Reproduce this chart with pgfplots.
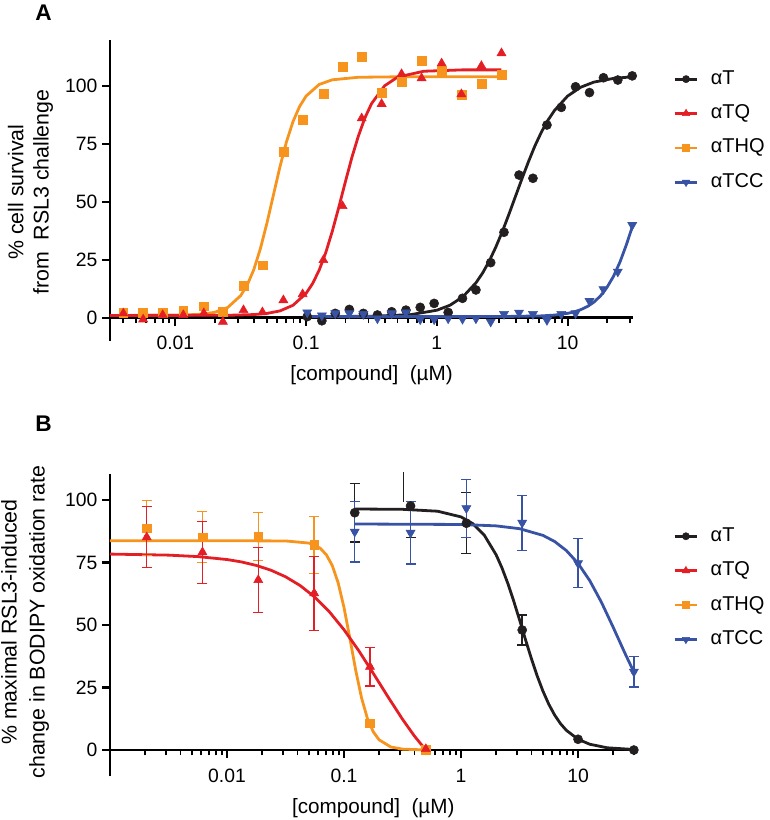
\documentclass[border=0pt]{standalone}
\usepackage{fontspec}
\setmainfont{Liberation Sans}
\usepackage{pgfplots}
\pgfplotsset{compat=1.18}
\definecolor{cT}{HTML}{231F20}
\definecolor{cTQ}{HTML}{E41E25}
\definecolor{cTHQ}{HTML}{F7941D}
\definecolor{cTCC}{HTML}{3953A4}

\pgfplotsset{
  every axis/.append style={
    scale only axis,
    axis x line=middle,
    axis y line=left,
    axis line style={-, line width=2pt, black},
    tick align=outside,
    major tick style={line width=1.6pt, black},
    minor tick style={line width=1.4pt, black},
    major tick length=6pt,
    minor tick length=4pt,
    hide obscured x ticks=false,
    hide obscured y ticks=false,
    ytick={0,25,50,75,100},
    yticklabels={0,25,50,75,100},
    xtick={0.01,0.1,1,10},
    xticklabels={0.01,0.1,1,10},
    tick label style={font=\fontsize{14.5}{17}\selectfont},
    xticklabel style={yshift=-4.5pt},
    clip=false,
    legend cell align=left,
    legend style={draw=none, fill=none, inner sep=0pt, anchor=north west,
      font=\fontsize{15}{18}\selectfont,
      nodes={inner sep=0pt, text height=10.5pt, text depth=3pt},
      row sep=12.3pt,
      /tikz/every odd column/.append style={column sep=9pt}},
  },
}

\begin{document}
\begin{tikzpicture}
\useasboundingbox (0pt,0pt) rectangle (577.5pt,-615pt);
\node[font=\fontsize{17}{19}\selectfont\bfseries] at (32.6pt,-9.5pt) {A};
\node[font=\fontsize{17}{19}\selectfont\bfseries] at (32.6pt,-317.6pt) {B};

% ---------------- panel A ----------------
\begin{axis}[
  xmode=log,
  at={(82.5pt,-255.7pt)}, anchor=south west,
  width=392.25pt, height=225.9pt,
  xmin=0.003162, xmax=31.62, ymin=-10, ymax=120,
  minor xtick={0.004,0.005,0.006,0.007,0.008,0.009,0.02,0.03,0.04,0.05,0.06,0.07,0.08,0.09,0.2,0.3,0.4,0.5,0.6,0.7,0.8,0.9,2,3,4,5,6,7,8,9,20,30},
  legend style={at={(1.0765,0.90)}},
]
\node[rotate=90, align=center, font=\fontsize{16}{19}\selectfont] at (axis description cs:-0.152,0.494) {\% cell survival\\from\ \ RSL3 challenge};
\node[font=\fontsize{15.5}{18}\selectfont] at (axis description cs:0.5,-0.113) {[compound]\ \ (µM)};

% fitted curves
\addplot[cTHQ, line width=2.1pt, forget plot] coordinates {
 (0.003162,1.0) (0.01,1.07) (0.01585,1.51) (0.01995,2.34) (0.02512,4.43) (0.03162,9.58)
 (0.03548,14.2) (0.03981,20.8) (0.04467,29.8) (0.05012,40.8) (0.05623,53.0) (0.0631,65.2)
 (0.07079,76.0) (0.07943,84.7) (0.08913,91.2) (0.1,95.7) (0.1259,100.7) (0.1585,102.7)
 (0.2512,103.8) (0.5012,104.0) (3.12,104.0)};
\addplot[cTQ, line width=2.1pt, forget plot] coordinates {
 (0.003162,1.0) (0.02512,1.07) (0.03981,1.38) (0.05012,1.87) (0.0631,2.96) (0.07943,5.4)
 (0.1,10.55) (0.1122,14.8) (0.1259,20.6) (0.1413,28.1) (0.1585,37.3) (0.1778,47.7)
 (0.1995,58.6) (0.2239,69.2) (0.2512,78.5) (0.2818,86.3) (0.3162,92.4) (0.3981,100.1)
 (0.5012,103.9) (0.7943,106.4) (1.585,107.0) (3.12,107.0)};
\addplot[cT, line width=2.1pt, forget plot] coordinates {
 (0.1,0.51) (0.3162,0.64) (0.631,1.35) (1,3.26) (1.259,5.4) (1.585,9.1) (1.995,15.15)
 (2.239,19.34) (2.512,24.4) (2.818,30.4) (3.162,37.1) (3.548,44.5) (3.981,52.2) (4.467,59.9)
 (5.012,67.3) (5.623,74.2) (6.31,80.2) (7.079,85.3) (7.943,89.5) (10,95.7) (12.59,99.5)
 (15.85,101.7) (22.39,103.3) (31.2,104.0)};
\addplot[cTCC, line width=2.1pt, forget plot] coordinates {
 (0.1,0.5) (1,0.5) (3.162,0.53) (6.31,0.81) (7.943,1.16) (10,1.91) (11.22,2.55) (12.59,3.49)
 (14.13,4.83) (15.85,6.71) (17.78,9.35) (19.95,13.0) (22.39,17.8) (25.12,24.0) (28.18,31.6)
 (31.2,39.2)};

% data points
\addplot[only marks, mark=square*, cTHQ, mark size=3.3pt, forget plot] coordinates {
 (0.0040,2.3) (0.00567,2.0) (0.0080,2.0) (0.0115,3.0) (0.0165,5.0) (0.0231,2.6) (0.0332,13.7)
 (0.0463,22.7) (0.067,71.7) (0.094,85.4) (0.1355,96.6) (0.19,108.4) (0.266,112.7) (0.378,97.2)
 (0.537,101.9) (0.764,110.8) (1.087,106.6) (1.54,96.2) (2.19,100.9) (3.12,104.8)};
\addplot[only marks, mark=triangle*, cTQ, mark size=3.9pt, forget plot] coordinates {
 (0.0040,1.9) (0.00567,-0.7) (0.0080,1.2) (0.0115,1.2) (0.0165,2.0) (0.0231,-1.7) (0.0332,3.3)
 (0.0463,2.4) (0.067,7.6) (0.094,10.2) (0.1355,24.9) (0.19,48.2) (0.266,86.1) (0.378,92.3)
 (0.537,105.2) (0.764,103.4) (1.087,109.8) (1.54,96.5) (2.19,108.7) (3.12,114.2)};
\addplot[only marks, mark=*, cT, mark size=3.4pt, forget plot] coordinates {
 (0.102,0.5) (0.132,-1.3) (0.167,1.9) (0.214,3.6) (0.274,1.9) (0.351,1.2) (0.451,2.6) (0.580,3.3)
 (0.746,4.5) (0.953,6.2) (1.22,2.3) (1.57,8.4) (1.99,12.0) (2.58,23.8) (3.26,36.9) (4.25,61.6)
 (5.43,60.2) (6.95,83.2) (8.95,90.8) (11.5,99.7) (14.7,97.2) (18.8,103.6) (24.2,102.6) (31.2,104.4)};
\addplot[only marks, mark=triangle*, mark options={rotate=180}, cTCC, mark size=3.9pt, forget plot] coordinates {
 (0.102,2.3) (0.132,1.0) (0.167,1.9) (0.214,1.9) (0.274,1.6) (0.351,-0.3) (0.451,1.9) (0.580,2.3)
 (0.746,-0.7) (0.953,-0.7) (1.22,-0.3) (1.57,-0.5) (1.99,-0.3) (2.58,-1.7) (3.26,1.6) (4.25,2.2)
 (5.43,1.6) (6.95,-1.0) (8.95,1.6) (11.5,1.9) (14.7,7.2) (18.8,12.3) (24.2,19.9) (31.2,40.0)};

\addlegendimage{cT, line width=2.1pt, mark=*, mark size=2.7pt, mark options={line width=0.4pt}}
\addlegendentry{αT}
\addlegendimage{cTQ, line width=2.1pt, mark=triangle*, mark size=3.2pt, mark options={line width=0.4pt}}
\addlegendentry{αTQ}
\addlegendimage{cTHQ, line width=2.1pt, mark=square*, mark size=2.6pt, mark options={line width=0.4pt}}
\addlegendentry{αTHQ}
\addlegendimage{cTCC, line width=2.1pt, mark=triangle*, mark size=3.2pt, mark options={rotate=180, line width=0.4pt}}
\addlegendentry{αTCC}
\end{axis}

% ---------------- panel B ----------------
\begin{axis}[
  xmode=log,
  at={(82.5pt,-582.2pt)}, anchor=south west,
  width=394.9pt, height=226.9pt,
  xmin=0.001, xmax=31.62, ymin=-10.5, ymax=110.5,
  minor xtick={0.002,0.003,0.004,0.005,0.006,0.007,0.008,0.009,0.02,0.03,0.04,0.05,0.06,0.07,0.08,0.09,0.2,0.3,0.4,0.5,0.6,0.7,0.8,0.9,2,3,4,5,6,7,8,9,20,30},
  legend style={at={(1.069,0.824)}},
]
\node[rotate=90, align=center, font=\fontsize{16}{21}\selectfont] at (axis description cs:-0.161,0.51) {\% maximal RSL3-induced\\change in BODIPY oxidation rate};
\node[font=\fontsize{15.5}{18}\selectfont] at (axis description cs:0.5,-0.105) {[compound]\ \ (µM)};

% fitted curves
\addplot[cTHQ, line width=2.1pt, forget plot] coordinates {
 (0.001,83.7) (0.01,83.7) (0.03162,83.62) (0.05012,82.77) (0.05623,81.98) (0.0631,80.56)
 (0.07079,78.03) (0.07943,73.74) (0.08913,66.86) (0.1,56.98) (0.1122,44.71) (0.1259,31.9)
 (0.1413,20.79) (0.1585,12.62) (0.1778,7.29) (0.1995,4.08) (0.2512,1.22) (0.3162,0.36) (0.5,0.03)};
\addplot[cTQ, line width=2.1pt, forget plot] coordinates {
 (0.001,78.37) (0.003162,77.95) (0.005623,77.37) (0.01,76.19) (0.01334,75.21) (0.01778,73.83)
 (0.02371,71.93) (0.03162,69.3) (0.04217,65.79) (0.05623,61.16) (0.07499,55.28) (0.1,48.1)
 (0.1334,39.79) (0.1778,30.68) (0.2371,21.33) (0.3162,12.31) (0.3981,5.7) (0.5,0)};
\addplot[cT, line width=2.1pt, forget plot] coordinates {
 (0.123,96.4) (0.3162,96.27) (0.631,95.51) (1,93.24) (1.259,90.55) (1.585,85.84) (1.995,78.1)
 (2.239,72.83) (2.512,66.63) (2.818,59.63) (3.162,52.08) (3.548,44.32) (3.981,36.77)
 (4.467,29.76) (5.012,23.57) (5.623,18.31) (6.31,14.0) (7.079,10.56) (7.943,7.89) (10,4.31)
 (12.59,2.31) (17.78,0.89) (30,0.21)};
\addplot[cTCC, line width=2.1pt, forget plot] coordinates {
 (0.123,90.4) (1,90.21) (1.995,89.65) (3.162,88.53) (5.012,85.85) (6.31,83.4) (7.943,79.79)
 (10,74.66) (12.59,67.76) (15.85,59.1) (19.95,49.15) (25.12,38.8) (30,31.2)};

% error bars
\addplot[cTHQ, only marks, mark=none, forget plot,
  error bars/.cd, y dir=both, y explicit, error bar style={line width=1.1pt},
  error mark options={rotate=90, line width=1.1pt, mark size=3.75pt}] coordinates {
 (0.00206,88.7) +- (0,11) (0.00617,85.1) +- (0,10.2) (0.0185,85.3) +- (0,9.6) (0.0556,82.0) +- (0,11.3)};
\addplot[cTQ, only marks, mark=none, forget plot,
  error bars/.cd, y dir=both, y explicit, error bar style={line width=1.1pt},
  error mark options={rotate=90, line width=1.1pt, mark size=3.75pt}] coordinates {
 (0.00206,85.1) +- (0,12.2) (0.00617,79.1) +- (0,12.4) (0.0185,68.0) +- (0,12.9)
 (0.0556,62.7) +- (0,14.8) (0.1667,33.3) +- (0,7.7)};
\addplot[cT, only marks, mark=none, forget plot,
  error bars/.cd, y dir=both, y explicit, error bar style={line width=1.1pt},
  error mark options={rotate=90, line width=1.1pt, mark size=3.75pt}] coordinates {
 (0.1235,94.9) +- (0,11.7) (0.3704,97.6) -= (0,12.5) (1.111,90.7) +- (0,12.2) (3.333,48.0) +- (0,6)};
\addplot[cT, line width=1.1pt, forget plot] coordinates {(0.321,99.3) (0.321,111.3)};
\addplot[cTCC, only marks, mark=none, forget plot,
  error bars/.cd, y dir=both, y explicit, error bar style={line width=1.1pt},
  error mark options={rotate=90, line width=1.1pt, mark size=3.75pt}] coordinates {
 (0.1235,87.3) +- (0,12.1) (0.3704,86.9) +- (0,12.5) (1.111,96.7) +- (0,11.6)
 (3.333,90.9) +- (0,11) (10,74.7) +- (0,9.8) (30,31.3) +- (0,6)};

% data points
\addplot[only marks, mark=square*, cTHQ, mark size=3.3pt, forget plot] coordinates {
 (0.00206,88.7) (0.00617,85.1) (0.0185,85.3) (0.0556,82.0) (0.1667,10.7) (0.5,0)};
\addplot[only marks, mark=triangle*, cTQ, mark size=3.9pt, forget plot] coordinates {
 (0.00206,85.1) (0.00617,79.1) (0.0185,68.0) (0.0556,62.7) (0.1667,33.3) (0.5,0.4)};
\addplot[only marks, mark=*, cT, mark size=3.4pt, forget plot] coordinates {
 (0.1235,94.9) (0.3704,97.6) (1.111,90.7) (3.333,48.0) (10,4.3) (30,0)};
\addplot[only marks, mark=triangle*, mark options={rotate=180}, cTCC, mark size=3.9pt, forget plot] coordinates {
 (0.1235,87.3) (0.3704,86.9) (1.111,96.7) (3.333,90.9) (10,74.7) (30,31.3)};

\addlegendimage{cT, line width=2.1pt, mark=*, mark size=2.7pt, mark options={line width=0.4pt}}
\addlegendentry{αT}
\addlegendimage{cTQ, line width=2.1pt, mark=triangle*, mark size=3.2pt, mark options={line width=0.4pt}}
\addlegendentry{αTQ}
\addlegendimage{cTHQ, line width=2.1pt, mark=square*, mark size=2.6pt, mark options={line width=0.4pt}}
\addlegendentry{αTHQ}
\addlegendimage{cTCC, line width=2.1pt, mark=triangle*, mark size=3.2pt, mark options={rotate=180, line width=0.4pt}}
\addlegendentry{αTCC}
\end{axis}
\end{tikzpicture}
\end{document}
